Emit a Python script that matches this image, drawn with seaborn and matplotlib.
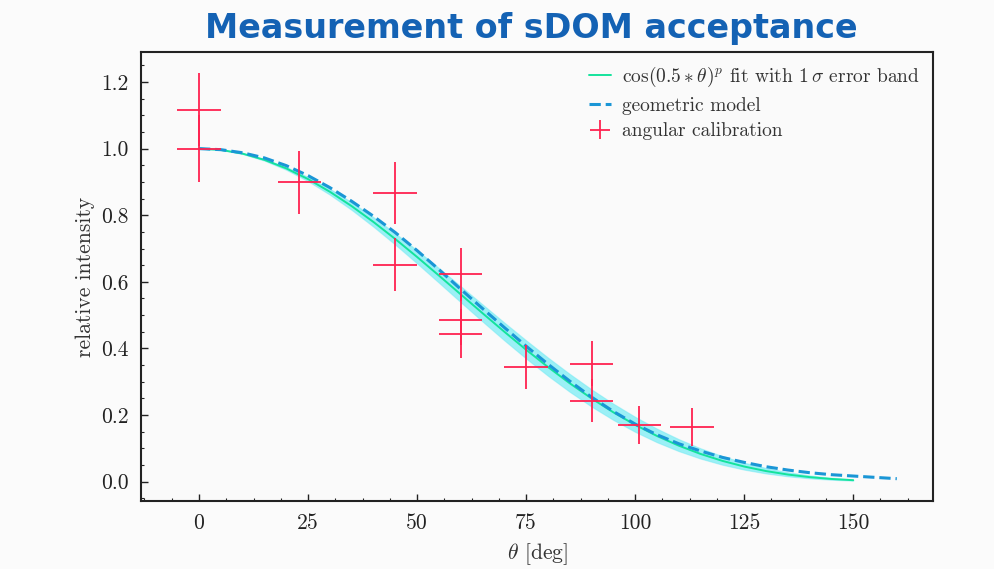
import numpy as np
import pandas as pd
import matplotlib
matplotlib.use("Agg")
import matplotlib.pyplot as plt
import seaborn as sns
from matplotlib.ticker import MultipleLocator

# ---------------- data ----------------
theta_fit = [0, 5, 10, 15, 20, 25, 30, 35, 40, 45, 50, 55, 60, 65, 70, 75,
             80, 85, 90, 95, 100, 105, 110, 115, 120, 125, 130, 135, 140, 145, 150]
fit_vals = [1.0, 0.9962, 0.9849, 0.9662, 0.9406, 0.9085, 0.8705, 0.8273, 0.7797,
            0.7286, 0.6747, 0.6190, 0.5625, 0.5060, 0.4503, 0.3962, 0.3444, 0.2955,
            0.2500, 0.2083, 0.1707, 0.1373, 0.1082, 0.0833, 0.0625, 0.0455, 0.0319,
            0.0215, 0.0137, 0.0082, 0.0045]
band_upper = [1.0, 0.9965, 0.9860, 0.9687, 0.9449, 0.9151, 0.8796, 0.8392, 0.7944,
              0.7461, 0.6949, 0.6417, 0.5873, 0.5325, 0.4780, 0.4247, 0.3730, 0.3238,
              0.2774, 0.2344, 0.1949, 0.1594, 0.1279, 0.1004, 0.0769, 0.0573, 0.0413,
              0.0286, 0.0189, 0.0117, 0.0067]
band_lower = [1.0, 0.9959, 0.9837, 0.9637, 0.9363, 0.9020, 0.8615, 0.8157, 0.7653,
              0.7115, 0.6551, 0.5972, 0.5387, 0.4808, 0.4241, 0.3696, 0.3179, 0.2697,
              0.2253, 0.1852, 0.1495, 0.1183, 0.0916, 0.0692, 0.0508, 0.0361, 0.0246,
              0.0161, 0.0099, 0.0057, 0.0030]

theta_geo = [0, 5, 10, 15, 20, 25, 30, 35, 40, 45, 50, 55, 60, 65, 70, 75, 80,
             85, 90, 95, 100, 105, 110, 115, 120, 125, 130, 135, 140, 145, 150, 155, 160]
geo_vals = [1.0, 0.9968, 0.9875, 0.972, 0.949, 0.919, 0.883, 0.842, 0.797, 0.748,
            0.694, 0.637, 0.578, 0.520, 0.463, 0.407, 0.353, 0.302, 0.254, 0.211,
            0.173, 0.141, 0.114, 0.092, 0.073, 0.058, 0.045, 0.035, 0.027, 0.021,
            0.017, 0.013, 0.009]

cal_theta = [0, 0, 23, 45, 45, 60, 60, 60, 75, 90, 90, 101, 113]
cal_int = [1.117, 1.0, 0.899, 0.866, 0.651, 0.623, 0.484, 0.444, 0.344, 0.354,
           0.243, 0.170, 0.163]
cal_yerr = [0.109, 0.10, 0.095, 0.093, 0.08, 0.08, 0.075, 0.073, 0.067, 0.067,
            0.064, 0.057, 0.057]
cal_xerr = [5, 5, 5, 5, 5, 5, 5, 5, 5, 5, 5, 5, 5]

title_text = "Measurement of sDOM acceptance"
xlabel_text = r"$\theta$ [deg]"
ylabel_text = "relative intensity"
lbl_fit = r"$\cos(0.5 * \theta)^p$ fit with $1\,\sigma$ error band"
lbl_geo = "geometric model"
lbl_cal = "angular calibration"

# ---------------- style ----------------
sns.set_theme(style="ticks")
plt.rcParams.update({
    "font.family": ["cmr10", "DejaVu Serif"],
    "mathtext.fontset": "cm",
    "axes.formatter.use_mathtext": True,
    "axes.unicode_minus": False,
})

fig = plt.figure(figsize=(9.95, 5.69), dpi=100, facecolor="#fbfbfb")
ax = fig.add_axes([0.1417, 0.1195, 0.7960, 0.7891])
ax.set_facecolor("#fafafa")

df_fit = pd.DataFrame({"theta": theta_fit, "val": fit_vals,
                       "lo": band_lower, "hi": band_upper})
df_geo = pd.DataFrame({"theta": theta_geo, "val": geo_vals})

ax.fill_between(df_fit["theta"], df_fit["lo"], df_fit["hi"],
                color="#00e1f0", alpha=0.38, lw=0.8, edgecolor="#5ee6f2", zorder=1)
sns.lineplot(data=df_fit, x="theta", y="val", ax=ax, color="#14e39c",
             lw=1.4, label=lbl_fit, zorder=3)
sns.lineplot(data=df_geo, x="theta", y="val", ax=ax, color="#1a96d6",
             lw=2.2, ls="--", dashes=(3.2, 2.0), label=lbl_geo, zorder=4)
ax.errorbar(cal_theta, cal_int, xerr=cal_xerr, yerr=cal_yerr, fmt="none",
            ecolor="#ff2350", elinewidth=1.3, capsize=0, label=lbl_cal, zorder=5)

ax.set_xlim(-13.3, 168.3)
ax.set_ylim(-0.058, 1.29)
ax.xaxis.set_major_locator(MultipleLocator(25))
ax.xaxis.set_minor_locator(MultipleLocator(6.25))
ax.yaxis.set_major_locator(MultipleLocator(0.2))
ax.yaxis.set_minor_locator(MultipleLocator(0.05))
ax.yaxis.set_major_formatter(matplotlib.ticker.FormatStrFormatter("%.1f"))
ax.xaxis.set_major_formatter(matplotlib.ticker.FormatStrFormatter("%d"))

ax.tick_params(which="major", direction="in", length=5, width=1.0,
               labelsize=15.5, colors="#222222", pad=9)
ax.tick_params(which="minor", direction="in", length=2.5, width=0.8, colors="#222222")
for s in ax.spines.values():
    s.set_linewidth(1.5)
    s.set_color("#222222")

ax.set_xlabel(xlabel_text, fontsize=15.5, color="#333333", labelpad=6)
ax.set_ylabel(ylabel_text, fontsize=15.5, color="#333333", labelpad=4)

leg = ax.legend(loc="upper right", frameon=False, fontsize=14,
                handlelength=1.1, handletextpad=0.6, labelspacing=0.4,
                borderaxespad=0.25)
for t in leg.get_texts():
    t.set_color("#333333")

fig.text(0.534, 0.950, title_text, ha="center", va="center",
         fontsize=24, fontweight="bold", color="#1462b4", family="DejaVu Sans")

fig.savefig("out.png", dpi=100, facecolor=fig.get_facecolor())
